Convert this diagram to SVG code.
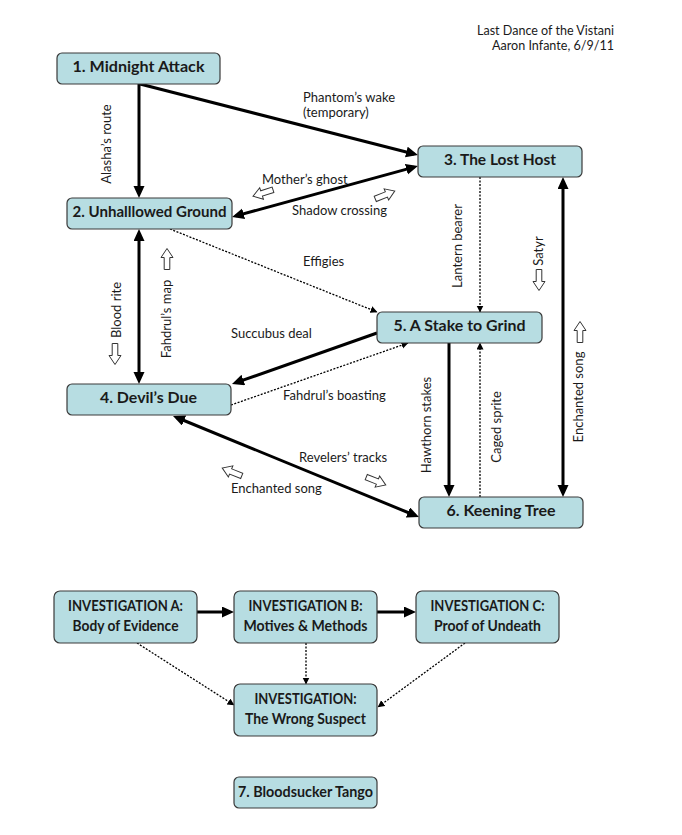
<svg xmlns="http://www.w3.org/2000/svg" width="682" height="835" viewBox="0 0 682 835">
<style>
.box{fill:#b7dde2;stroke:#3a3a3a;stroke-width:1.2}
.nt{font-family:Lato,"Liberation Sans",sans-serif;font-weight:bold;font-size:16px;fill:#1a1a1a;text-anchor:middle}
.lb{font-family:Lato,"Liberation Sans",sans-serif;font-size:13px;fill:#1a1a1a}
.vt{font-family:Lato,"Liberation Sans",sans-serif;font-size:13px;fill:#1a1a1a;text-anchor:middle}
.thick{stroke:#000;stroke-width:3;fill:none}
.dot{stroke:#000;stroke-width:1.3;stroke-dasharray:2 1.5;fill:none}
.ba{fill:#fff;stroke:#333;stroke-width:1}
</style>
<defs>
<marker id="ah" markerUnits="userSpaceOnUse" markerWidth="14" markerHeight="12" refX="8" refY="5.5" orient="auto-start-reverse" viewBox="0 0 14 12">
<path d="M0,0 L12,5.5 L0,11 Z" fill="#000"/>
</marker>
<marker id="sh" markerUnits="userSpaceOnUse" markerWidth="8" markerHeight="8" refX="6.5" refY="3.5" orient="auto" viewBox="0 0 8 8">
<path d="M0,0 L7,3.5 L0,7 Z" fill="#000"/>
</marker>
<path id="bar" class="ba" d="M-10.5,-2.8 H1.5 V-6 L10.5,0 L1.5,6 V2.8 H-10.5 Z"/>
</defs>
<rect width="682" height="835" fill="#fff"/>

<g id="title">
<text class="lb" x="614" y="35" text-anchor="end" textLength="137" lengthAdjust="spacingAndGlyphs">Last Dance of the Vistani</text>
<text class="lb" x="614" y="50" text-anchor="end" textLength="122" lengthAdjust="spacingAndGlyphs">Aaron Infante, 6/9/11</text>
</g>

<g id="connectors">
<line class="thick" x1="139" y1="84" x2="139" y2="194" marker-end="url(#ah)"/>
<line class="thick" x1="140" y1="84" x2="414.1" y2="154" marker-end="url(#ah)"/>
<line class="thick" x1="235.9" y1="215.9" x2="414.1" y2="167.1" marker-start="url(#ah)" marker-end="url(#ah)"/>
<line class="thick" x1="139" y1="233" x2="139" y2="380" marker-start="url(#ah)" marker-end="url(#ah)"/>
<line class="thick" x1="377" y1="333" x2="235.8" y2="382.7" marker-end="url(#ah)"/>
<line class="thick" x1="176.7" y1="417.5" x2="415.3" y2="515.5" marker-start="url(#ah)" marker-end="url(#ah)"/>
<line class="thick" x1="563" y1="181" x2="563" y2="493" marker-start="url(#ah)" marker-end="url(#ah)"/>
<line class="thick" x1="449" y1="343" x2="449" y2="493" marker-end="url(#ah)"/>
<line class="dot" x1="170" y1="229" x2="377" y2="312" marker-end="url(#sh)"/>
<line class="dot" x1="231" y1="405" x2="408" y2="343" marker-end="url(#sh)"/>
<line class="dot" x1="480" y1="177" x2="480" y2="312" marker-end="url(#sh)"/>
<line class="dot" x1="480" y1="497" x2="480" y2="343" marker-end="url(#sh)"/>
<line class="thick" x1="197" y1="612" x2="230" y2="612" marker-end="url(#ah)"/>
<line class="thick" x1="377" y1="612" x2="412" y2="612" marker-end="url(#ah)"/>
<line class="dot" x1="137" y1="643" x2="234" y2="705" marker-end="url(#sh)"/>
<line class="dot" x1="306" y1="643" x2="306" y2="684" marker-end="url(#sh)"/>
<line class="dot" x1="465" y1="643" x2="378" y2="707" marker-end="url(#sh)"/>
</g>

<g id="labels">
<text class="lb" x="303" y="102">Phantom’s wake</text>
<text class="lb" x="303" y="117">(temporary)</text>
<text class="lb" x="262" y="184">Mother’s ghost</text>
<text class="lb" x="292" y="215">Shadow crossing</text>
<text class="lb" x="303" y="266">Effigies</text>
<text class="lb" x="231" y="338">Succubus deal</text>
<text class="lb" x="283" y="400">Fahdrul’s boasting</text>
<text class="lb" x="299" y="462">Revelers’ tracks</text>
<text class="lb" x="231" y="493">Enchanted song</text>
<text class="vt" transform="translate(110.5,144) rotate(-90)">Alasha’s route</text>
<text class="vt" transform="translate(461.5,246) rotate(-90)">Lantern bearer</text>
<text class="vt" transform="translate(543,251) rotate(-90)">Satyr</text>
<text class="vt" transform="translate(120.5,310) rotate(-90)">Blood rite</text>
<text class="vt" transform="translate(170.5,319) rotate(-90)">Fahdrul’s map</text>
<text class="vt" transform="translate(431,425) rotate(-90)">Hawthorn stakes</text>
<text class="vt" transform="translate(500.5,427) rotate(-90)">Caged sprite</text>
<text class="vt" transform="translate(583,397) rotate(-90)">Enchanted song</text>
</g>

<g id="block-arrows">
<use href="#bar" transform="translate(263,193) rotate(162)"/>
<use href="#bar" transform="translate(385,195) rotate(-22)"/>
<use href="#bar" transform="translate(167,259) rotate(-90)"/>
<use href="#bar" transform="translate(115,354) rotate(90)"/>
<use href="#bar" transform="translate(539,280) rotate(90)"/>
<use href="#bar" transform="translate(580,332) rotate(-90)"/>
<use href="#bar" transform="translate(232,472) rotate(202)"/>
<use href="#bar" transform="translate(376,481) rotate(22)"/>
</g>

<g id="n1"><rect class="box" x="57" y="53" width="163" height="31" rx="5"/><text class="nt" x="138.5" y="72" textLength="132" lengthAdjust="spacingAndGlyphs">1. Midnight Attack</text></g>
<g id="n2"><rect class="box" x="67" y="198" width="165" height="31" rx="5"/><text class="nt" x="149.5" y="217" textLength="154" lengthAdjust="spacingAndGlyphs">2. Unhalllowed Ground</text></g>
<g id="n3"><rect class="box" x="418" y="146" width="164" height="31" rx="5"/><text class="nt" x="500" y="165" textLength="112" lengthAdjust="spacingAndGlyphs">3. The Lost Host</text></g>
<g id="n4"><rect class="box" x="67" y="384" width="164" height="31" rx="5"/><text class="nt" x="148.5" y="403" textLength="97" lengthAdjust="spacingAndGlyphs">4. Devil’s Due</text></g>
<g id="n5"><rect class="box" x="377" y="312" width="165" height="31" rx="5"/><text class="nt" x="459.5" y="331" textLength="132" lengthAdjust="spacingAndGlyphs">5. A Stake to Grind</text></g>
<g id="n6"><rect class="box" x="419" y="497" width="164" height="31" rx="5"/><text class="nt" x="501" y="516" textLength="109" lengthAdjust="spacingAndGlyphs">6. Keening Tree</text></g>
<g id="invA"><rect class="box" x="54" y="591" width="143" height="52" rx="6"/><text class="nt" x="125.5" y="610.5" textLength="115" lengthAdjust="spacingAndGlyphs">INVESTIGATION A:</text><text class="nt" x="125.5" y="630.5" textLength="106" lengthAdjust="spacingAndGlyphs">Body of Evidence</text></g>
<g id="invB"><rect class="box" x="234" y="591" width="143" height="52" rx="6"/><text class="nt" x="305.5" y="610.5" textLength="114" lengthAdjust="spacingAndGlyphs">INVESTIGATION B:</text><text class="nt" x="305.5" y="630.5" textLength="124" lengthAdjust="spacingAndGlyphs">Motives &amp; Methods</text></g>
<g id="invC"><rect class="box" x="416" y="591" width="143" height="52" rx="6"/><text class="nt" x="487.5" y="610.5" textLength="114" lengthAdjust="spacingAndGlyphs">INVESTIGATION C:</text><text class="nt" x="487.5" y="630.5" textLength="107" lengthAdjust="spacingAndGlyphs">Proof of Undeath</text></g>
<g id="invW"><rect class="box" x="234" y="684" width="143" height="52" rx="6"/><text class="nt" x="305.5" y="703.5" textLength="102" lengthAdjust="spacingAndGlyphs">INVESTIGATION:</text><text class="nt" x="305.5" y="723.5" textLength="121" lengthAdjust="spacingAndGlyphs">The Wrong Suspect</text></g>
<g id="n7"><rect class="box" x="234" y="777" width="143" height="31" rx="5"/><text class="nt" x="305.5" y="796.5" textLength="135" lengthAdjust="spacingAndGlyphs">7. Bloodsucker Tango</text></g>
</svg>
